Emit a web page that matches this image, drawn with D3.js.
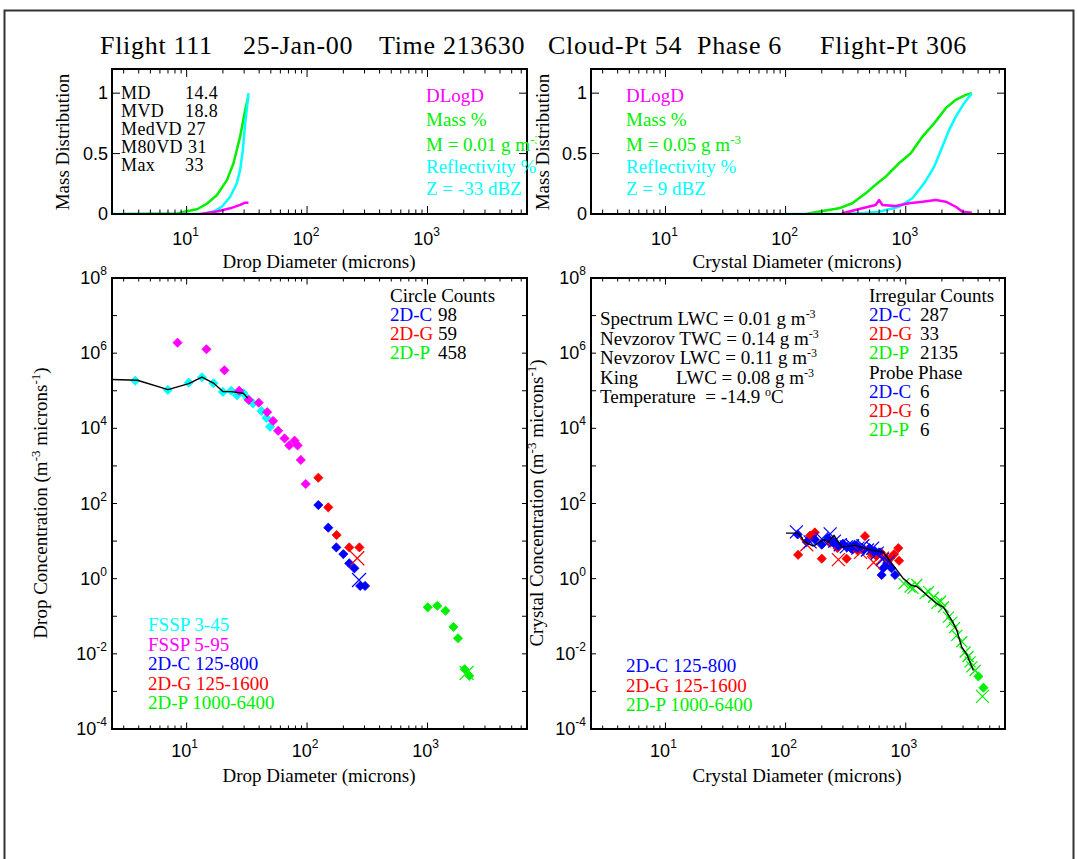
<!DOCTYPE html>
<html>
<head>
<meta charset="utf-8">
<script src="https://cdn.jsdelivr.net/npm/d3@7"></script>
<style>
  html, body { margin: 0; padding: 0; background: #fff; }
  svg text { font-family: "Liberation Serif", "Times New Roman", serif; }
  svg text.tick-label { font-family: "Liberation Sans", Arial, sans-serif; }
</style>
</head>
<body>
<svg id="fig" width="1077" height="859"></svg>
<script>
// ---------- header ----------
const titleParts = ["Flight 111", "25-Jan-00", "Time 213630", "Cloud-Pt 54", "Phase 6", "Flight-Pt 306"];

// ---------- mass distribution curves (fraction vs diameter, microns) ----------
const dropMassPct  = [[3, 0], [8.3, 0.005], [10, 0.022], [12.2, 0.039], [14.7, 0.085], [17.8, 0.155], [21.6, 0.28], [24.5, 0.42], [27.8, 0.64], [30.6, 0.86], [32.5, 0.97]];
const dropReflPct  = [[2.4, 0], [14, 0.002], [16.7, 0.02], [19.6, 0.06], [23, 0.143], [26.1, 0.254], [27.8, 0.365], [29.3, 0.53], [30.6, 0.75], [32, 0.92], [32.6, 1.0]];
const dropDLogD    = [[13, 0], [17.8, 0.02], [23, 0.047], [27.8, 0.075], [30.6, 0.094], [32.6, 0.094]];

const crysMassPct  = [[150, 0.003], [167, 0.011], [278, 0.047], [359, 0.089], [464, 0.171], [580, 0.254], [681, 0.309], [879, 0.42], [1101, 0.503], [1375, 0.64], [1722, 0.75], [2154, 0.876], [2610, 0.945], [3160, 0.986], [3548, 1.0]];
const crysReflPct  = [[100, 0], [300, 0.003], [450, 0.008], [599, 0.019], [879, 0.06], [1135, 0.13], [1422, 0.254], [1722, 0.39], [2020, 0.558], [2296, 0.696], [2610, 0.806], [3060, 0.917], [3548, 1.0]];
const crysDLogD    = [[296, 0.006], [435, 0.047], [562, 0.075], [600, 0.116], [638, 0.075], [826, 0.066], [1067, 0.089], [1375, 0.102], [1778, 0.116], [2154, 0.102], [2610, 0.06], [2965, 0.019], [3548, 0.01]];

const dropStatNames  = ["MD", "MVD", "MedVD", "M80VD", "Max"];
const dropStatValues = ["14.4", "18.8", "27", "31", "33"];
const dropMass = "0.01", dropZ = "-33";
const crysMass = "0.05", crysZ = "9";

// ---------- drop size spectrum (diameter microns, concentration m^-3 micron^-1) ----------
const fsspSmall = [[3.74, 1.85e5], [6.98, 1.05e5], [10.4, 1.64e5], [13.4, 2.28e5], [16.7, 1.58e5], [20.0, 9.3e4], [23.4, 1.0e5], [26.2, 7.6e4], [29.6, 8.6e4], [32.2, 6.1e4], [35.6, 4.6e4], [41.8, 2.9e4], [45.9, 1.9e4], [49.3, 1.1e4]];
const fsspLarge = [[8.4, 1.9e6], [14.6, 1.27e6], [20.6, 3.5e5], [27.3, 1.0e5], [32.8, 5.7e4], [39.7, 4.8e4], [46.6, 2.7e4], [52.2, 1.57e4], [57.5, 8.6e3], [65, 5.4e3], [71.2, 3.5e3], [78.7, 4.7e3], [83.4, 3.5e3], [88.7, 1.44e3], [97.5, 330]];
const dropC      = [[124, 91], [150, 22.7], [175, 6.8], [200, 4.5], [224, 2.56], [247, 1.88], [276, 0.64], [303, 0.64]];
const dropCLast  = [[270, 0.92]];
const dropG      = [[124, 485], [150, 79], [176, 14.5], [224, 6.8], [272, 6.8]];
const dropGLast  = [[261, 3.5]];
const dropP      = [[1004, 0.173], [1206, 0.19], [1410, 0.14], [1640, 0.052], [1790, 0.026], [2036, 0.0039], [2223, 0.0026]];
const dropPLast  = [[2113, 0.0031]];
const dropCombined = [[2.4, 2.0e5], [3.9, 1.9e5], [7.0, 1.07e5], [10.4, 1.55e5], [13.4, 2.3e5], [16.7, 1.6e5], [20, 9.5e4], [23.4, 9.5e4], [29.6, 8.6e4], [32.2, 6.3e4]];

const circleProbes = ["2D-C", "2D-G", "2D-P"];
const circleCounts = ["98", "59", "458"];
const dropRanges = ["FSSP 3-45", "FSSP 5-95", "2D-C 125-800", "2D-G 125-1600", "2D-P 1000-6400"];

// ---------- crystal size spectrum ----------
const crysC      = [[126, 15], [150, 9.5], [175, 11], [200, 8], [225, 12], [250, 9], [275, 7.5], [300, 8.5], [325, 7], [350, 6.5], [375, 8], [400, 7], [450, 6], [500, 6.5], [550, 5.5], [600, 5], [630, 1.25], [650, 1.9], [700, 2.6], [760, 1.9], [815, 1.25]];
const crysCX     = [[123, 17.5], [160, 9.5], [200, 11.5], [235, 15.5], [255, 10], [285, 8], [320, 7], [360, 7.5], [400, 6.5], [440, 7.5], [480, 5.8], [530, 6.5], [580, 4.8], [640, 3.2], [720, 2.8]];
const crysG      = [[127, 4.3], [160, 14], [175, 17], [200, 3.4], [235, 9], [270, 6.5], [322, 3.4], [360, 6], [400, 5.5], [458, 13.5], [520, 4.5], [570, 4], [620, 5], [680, 3.5], [740, 3.4], [800, 4.5], [867, 6.5], [880, 3]];
const crysGX     = [[150, 8], [275, 3.2], [420, 5], [540, 2.7], [640, 3.5]];
const crysPX     = [[966, 0.74], [1086, 0.6], [1150, 0.55], [1235, 0.7], [1449, 0.4], [1550, 0.45], [1700, 0.32], [1813, 0.22], [1950, 0.25], [2057, 0.176], [2265, 0.095], [2417, 0.07], [2550, 0.05], [2661, 0.031], [2929, 0.021], [3120, 0.0112], [3300, 0.0085], [3434, 0.0061], [3548, 0.0045], [3781, 0.0036]];
const crysP      = [[4027, 0.0025], [4433, 0.00126]];
const crysPLast  = [[4350, 0.00074]];
const crysCombined = [[100.6, 16.3], [126, 16.3], [145, 9.4], [170, 7.4], [206, 10.9], [226, 9.4], [253, 14.2], [293, 6.9], [378, 7.7], [504, 5.9], [651, 5.1], [788, 2.26], [955, 1.0], [1122, 0.66], [1235, 0.62], [1402, 0.44], [1813, 0.216], [2057, 0.176], [2417, 0.078], [2661, 0.042], [2929, 0.015], [3222, 0.0097], [3659, 0.0036]];

const irregProbes = ["2D-C", "2D-G", "2D-P"];
const irregCounts = ["287", "33", "2135"];
const probePhases = ["6", "6", "6"];
const crysRanges = ["2D-C 125-800", "2D-G 125-1600", "2D-P 1000-6400"];
const lwcLabels = ["Spectrum LWC", "Nevzorov TWC", "Nevzorov LWC", "King        LWC"];
const lwcValues = ["0.01", "0.14", "0.11", "0.08"];
const temperature = "-14.9";

// ---------- drawing ----------
const C = { mag: "#ff00ff", grn: "#00f000", cyn: "#00ffff", blu: "#0000ff", red: "#ff0000" };
const svg = d3.select("#fig");

svg.append("rect").attr("x", 4.5).attr("y", 10.5).attr("width", 1069).attr("height", 870)
  .attr("fill", "none").attr("stroke", "#333").attr("stroke-width", 2);

const titleX = [100, 243, 379, 548, 697, 820];
svg.append("g").selectAll("text").data(titleParts).join("text")
  .attr("x", (d, i) => titleX[i]).attr("y", 54).attr("font-size", 26).attr("letter-spacing", 0.7).text(d => d);

const xDomain = [2.4, 6700];
const boxes = {
  tl: { x0: 112, x1: 527, y0: 69, y1: 214 },
  tr: { x0: 591, x1: 1005, y0: 69, y1: 214 },
  bl: { x0: 112, x1: 527, y0: 278, y1: 729 },
  br: { x0: 591, x1: 1005, y0: 278, y1: 729 }
};

function addSup(textSel, parts, supSize) {
  parts.forEach(([s, sup]) => {
    const t = textSel.append("tspan").text(s);
    if (sup) t.attr("font-size", supSize).attr("baseline-shift", "super");
  });
  return textSel;
}

function powLabel(g, x, y, exp, anchor) {
  const t = g.append("text").attr("class", "tick-label").attr("x", x).attr("y", y)
    .attr("font-size", 18).attr("text-anchor", anchor);
  t.append("tspan").text("10");
  t.append("tspan").attr("font-size", 12).attr("dy", -9).text(exp);
  return t;
}

function logXTicks(g, x, b, major, minor) {
  for (let e = 0; e <= 4; e++) for (let k = 1; k < 10; k++) {
    const v = k * Math.pow(10, e);
    if (v < xDomain[0] || v > xDomain[1]) continue;
    const len = k === 1 ? major : minor, px = x(v);
    g.append("line").attr("x1", px).attr("x2", px).attr("y1", b.y1).attr("y2", b.y1 - len);
    g.append("line").attr("x1", px).attr("x2", px).attr("y1", b.y0).attr("y2", b.y0 + len);
  }
}

function panel(key, kind) {
  const b = boxes[key];
  const x = d3.scaleLog().domain(xDomain).range([b.x0, b.x1]);
  const y = kind === "mass"
    ? d3.scaleLinear().domain([0, 1.2]).range([b.y1, b.y0])
    : d3.scaleLog().domain([1e-4, 1e8]).range([b.y1, b.y0]);
  const g = svg.append("g");
  const clipId = "clip-" + key;
  svg.append("clipPath").attr("id", clipId).append("rect")
    .attr("x", b.x0).attr("y", b.y0).attr("width", b.x1 - b.x0).attr("height", b.y1 - b.y0);
  const plot = g.append("g").attr("clip-path", `url(#${clipId})`);
  const ticks = g.append("g").attr("stroke", "#000").attr("stroke-width", 1);

  if (kind === "mass") {
    logXTicks(ticks, x, b, 8, 4.5);
    [0, 0.5, 1].forEach(v => {
      ticks.append("line").attr("x1", b.x0).attr("x2", b.x0 + 8).attr("y1", y(v)).attr("y2", y(v));
      ticks.append("line").attr("x1", b.x1).attr("x2", b.x1 - 8).attr("y1", y(v)).attr("y2", y(v));
      g.append("text").attr("class", "tick-label").attr("x", b.x0 - 4).attr("y", y(v) + 6)
        .attr("font-size", 18).attr("text-anchor", "end").text(d3.format("")(v));
    });
    [1, 2, 3].forEach(e => powLabel(g, x(Math.pow(10, e)) - 1, 245, e, "middle"));
  } else {
    logXTicks(ticks, x, b, 6.5, 3.5);
    for (let e = -4; e <= 8; e++) {
      const py = y(Math.pow(10, e));
      ticks.append("line").attr("x1", b.x0).attr("x2", b.x0 + 5).attr("y1", py).attr("y2", py);
      ticks.append("line").attr("x1", b.x1).attr("x2", b.x1 - 5).attr("y1", py).attr("y2", py);
      if (e % 2 === 0) powLabel(g, b.x0 - 5, py + 6, e, "end");
    }
    [1, 2, 3].forEach(e => powLabel(g, x(Math.pow(10, e)) - 2, 757, e, "middle"));
  }
  g.append("rect").attr("x", b.x0).attr("y", b.y0).attr("width", b.x1 - b.x0).attr("height", b.y1 - b.y0)
    .attr("fill", "none").attr("stroke", "#000").attr("stroke-width", 2);
  return { x, y, g, plot, b };
}

const curve = (p, data, color, w) => p.plot.append("path").datum(data)
  .attr("fill", "none").attr("stroke", color).attr("stroke-width", w).attr("stroke-linejoin", "round")
  .attr("d", d3.line().x(d => p.x(d[0])).y(d => p.y(d[1])));

const diamond = r => `M0,${-r}L${r},0L0,${r}L${-r},0Z`;
const cross = r => `M${-r},${-r}L${r},${r}M${-r},${r}L${r},${-r}`;

function diamonds(p, data, color, r = 4.6) {
  p.plot.append("g").selectAll("path").data(data).join("path")
    .attr("transform", d => `translate(${p.x(d[0])},${p.y(d[1])})`)
    .attr("d", diamond(r)).attr("fill", color).attr("stroke", color).attr("stroke-width", 0.8);
}
function crosses(p, data, color, r = 7) {
  p.plot.append("g").selectAll("path").data(data).join("path")
    .attr("transform", d => `translate(${p.x(d[0])},${p.y(d[1])})`)
    .attr("d", cross(r)).attr("fill", "none").attr("stroke", color).attr("stroke-width", 1.2);
}

// ---- top-left: drop mass distribution ----
const tl = panel("tl", "mass");
curve(tl, dropMassPct, C.grn, 2.5);
curve(tl, dropReflPct, C.cyn, 2.5);
curve(tl, dropDLogD, C.mag, 2.5);

const statY = [99, 117, 135, 153, 171];
const stats = svg.append("g").attr("font-size", 18).attr("letter-spacing", 0.4);
dropStatNames.forEach((n, i) => {
  const t = stats.append("text").attr("x", 121).attr("y", statY[i]).text(n);
  const end = 121 + t.node().getComputedTextLength();
  stats.append("text").attr("x", Math.max(185, end + 5)).attr("y", statY[i]).text(dropStatValues[i]);
});

const legY = [102, 126, 151, 173, 195];
svg.append("clipPath").attr("id", "clip-tl-legend").append("rect")
  .attr("x", 0).attr("y", 60).attr("width", 537).attr("height", 160);
function massLegend(x0, mass, z, clip) {
  const g = svg.append("g").attr("font-size", 19);
  if (clip) g.attr("clip-path", "url(#clip-tl-legend)");
  g.append("text").attr("x", x0).attr("y", legY[0]).attr("fill", C.mag).text("DLogD");
  g.append("text").attr("x", x0).attr("y", legY[1]).attr("fill", C.grn).text("Mass %");
  addSup(g.append("text").attr("x", x0).attr("y", legY[2]).attr("fill", C.grn),
    [[`M = ${mass} g m`, false], ["-3", true]], 13);
  g.append("text").attr("x", x0).attr("y", legY[3]).attr("fill", C.cyn).text("Reflectivity %");
  g.append("text").attr("x", x0).attr("y", legY[4]).attr("fill", C.cyn).text(`Z = ${z} dBZ`);
}
massLegend(426, dropMass, dropZ, true);

svg.append("text").attr("transform", "translate(69,142) rotate(-90)").attr("text-anchor", "middle")
  .attr("font-size", 19).text("Mass Distribution");
svg.append("text").attr("x", 319).attr("y", 268).attr("text-anchor", "middle")
  .attr("font-size", 19).text("Drop Diameter (microns)");

// ---- top-right: crystal mass distribution ----
const tr = panel("tr", "mass");
curve(tr, crysMassPct, C.grn, 2.5);
curve(tr, crysReflPct, C.cyn, 2.5);
curve(tr, crysDLogD, C.mag, 2.5);
massLegend(626, crysMass, crysZ, false);
svg.append("text").attr("transform", "translate(549,142) rotate(-90)").attr("text-anchor", "middle")
  .attr("font-size", 19).text("Mass Distribution");
svg.append("text").attr("x", 797).attr("y", 268).attr("text-anchor", "middle")
  .attr("font-size", 19).text("Crystal Diameter (microns)");

// ---- bottom-left: drop concentration ----
const bl = panel("bl", "conc");
diamonds(bl, fsspSmall, C.cyn);
diamonds(bl, fsspLarge, C.mag);
diamonds(bl, dropG, C.red);
diamonds(bl, dropC, C.blu);
diamonds(bl, dropP, C.grn);
crosses(bl, dropGLast, C.red);
crosses(bl, dropCLast, C.blu);
crosses(bl, dropPLast, C.grn);
curve(bl, dropCombined, "#000", 1.4);

const countY = [302, 321, 340, 359];
const probeColors = [C.blu, C.red, C.grn];
function countBlock(x0, vx, title, probes, counts, y0) {
  const g = svg.append("g").attr("font-size", 19);
  g.append("text").attr("x", x0).attr("y", y0[0]).text(title);
  probes.forEach((p, i) => {
    g.append("text").attr("x", x0).attr("y", y0[i + 1]).attr("fill", probeColors[i]).text(p);
    g.append("text").attr("x", vx).attr("y", y0[i + 1]).text(counts[i]);
  });
}
countBlock(390, 438, "Circle Counts", circleProbes, circleCounts, countY);

const rangeColors = [C.cyn, C.mag, C.blu, C.red, C.grn];
svg.append("g").attr("font-size", 19).selectAll("text").data(dropRanges).join("text")
  .attr("x", 148).attr("y", (d, i) => 631 + i * 19.5).attr("fill", (d, i) => rangeColors[i]).text(d => d);

addSup(svg.append("text").attr("transform", "translate(47,503) rotate(-90)").attr("text-anchor", "middle").attr("font-size", 19),
  [["Drop Concentration (m", false], ["-3", true], [" microns", false], ["-1", true], [")", false]], 13);
svg.append("text").attr("x", 319).attr("y", 782).attr("text-anchor", "middle")
  .attr("font-size", 19).text("Drop Diameter (microns)");

// ---- bottom-right: crystal concentration ----
const br = panel("br", "conc");
diamonds(br, crysG, C.red);
diamonds(br, crysC, C.blu);
crosses(br, crysGX, C.red, 6.5);
crosses(br, crysCX, C.blu, 6.5);
crosses(br, crysPX, C.grn, 5.5);
diamonds(br, crysP, C.grn);
crosses(br, crysPLast, C.grn, 6.5);
curve(br, crysCombined, "#000", 1.4);

const lwcY = [325, 344.5, 364, 383.5, 403];
const lw = svg.append("g").attr("font-size", 19);
lwcLabels.forEach((l, i) => {
  addSup(lw.append("text").attr("x", 600).attr("y", lwcY[i]).attr("xml:space", "preserve"),
    [[`${l} = ${lwcValues[i]} g m`, false], ["-3", true]], 12);
});
addSup(lw.append("text").attr("x", 600).attr("y", lwcY[4]).attr("xml:space", "preserve"),
  [[`Temperature  = ${temperature} `, false], ["o", true], ["C", false]], 12);

const irrY = [302, 321, 340, 359];
countBlock(869, 920, "Irregular Counts", irregProbes, irregCounts, irrY);
countBlock(869, 920, "Probe Phase", irregProbes, probePhases, [379, 398, 417, 436]);

svg.append("g").attr("font-size", 19).selectAll("text").data(crysRanges).join("text")
  .attr("x", 626).attr("y", (d, i) => 672 + i * 19.5).attr("fill", (d, i) => rangeColors[i + 2]).text(d => d);

addSup(svg.append("text").attr("transform", "translate(543,503) rotate(-90)").attr("text-anchor", "middle").attr("font-size", 19),
  [["Crystal Concentration (m", false], ["-3", true], [" microns", false], ["-1", true], [")", false]], 13);
svg.append("text").attr("x", 797).attr("y", 782).attr("text-anchor", "middle")
  .attr("font-size", 19).text("Crystal Diameter (microns)");
</script>
</body>
</html>
